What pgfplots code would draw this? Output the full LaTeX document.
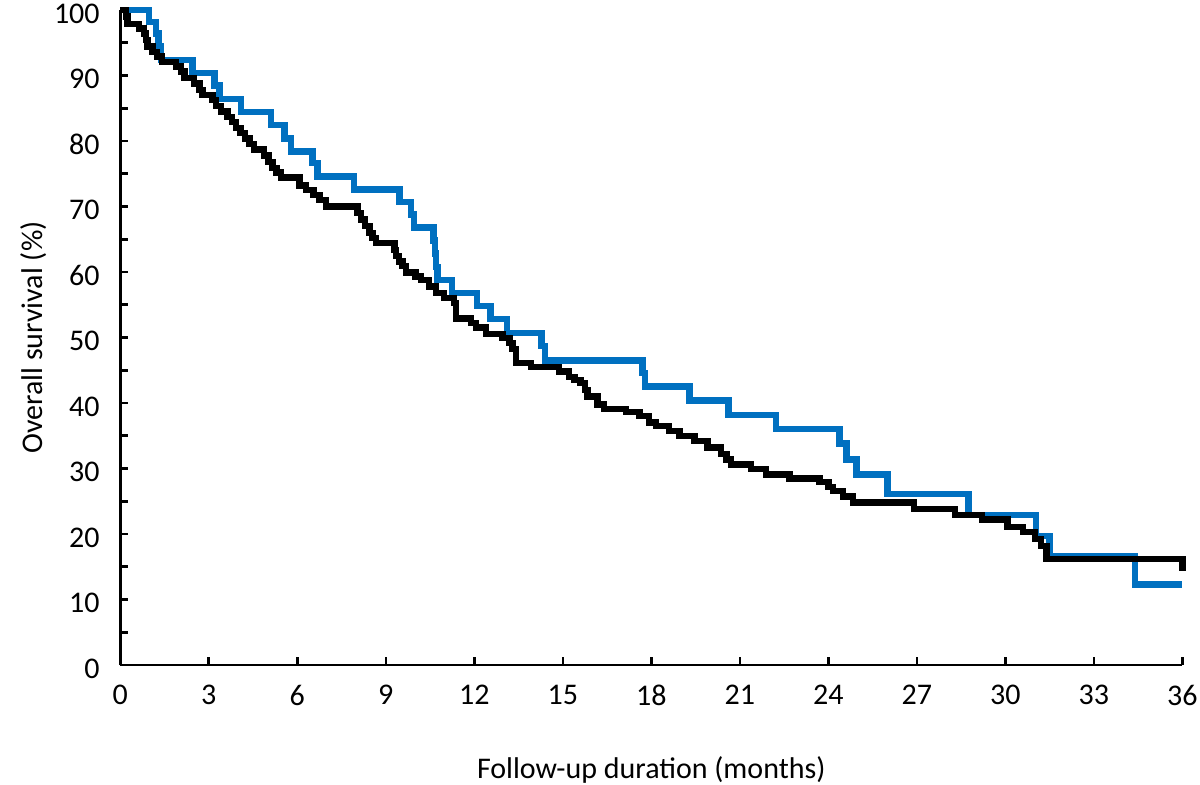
\documentclass[border=0pt]{standalone}
\usepackage{fontspec}
\setmainfont{Carlito}
\usepackage{pgfplots}
\pgfplotsset{compat=1.18}
\definecolor{kmblue}{RGB}{0,112,192}
\begin{document}
\begin{tikzpicture}
\useasboundingbox (-60.15pt,-59.5pt) rectangle (539.85pt,332.5pt);
\begin{axis}[
  at={(0pt,0pt)}, anchor=origin,
  scale only axis,
  width=531pt, height=327.5pt,
  xmin=0, xmax=36, ymin=0, ymax=100,
  axis lines=left,
  axis line style={-, line width=1.3pt, black},
  every tick/.style={line width=1.3pt, black},
  tick align=inside,
  major tick length=4pt, minor tick length=4pt,
  xtick={0,3,...,36},
  ytick={0,10,...,100},
  minor ytick={5,15,...,95},
  clip=false,
  /pgf/number format/assume math mode=true,
  tick label style={font=\fontsize{15}{18}\selectfont, black},
  xticklabel style={yshift=-6.7pt},
  yticklabel style={xshift=-6.8pt, yshift=-1.7pt},
  label style={font=\fontsize{15}{18}\selectfont},
  xlabel={Follow-up duration (months)},
  ylabel={Overall survival (\%)},
  xlabel style={at={([yshift=-52.5pt]axis description cs:0.5,0)}, anchor=center},
  ylabel style={at={([xshift=-43.5pt]axis description cs:0,0.5)}, anchor=center},
]
\addplot[const plot, kmblue, line width=3.2pt, line join=miter] coordinates {
(0,100) (0.98,98.2) (1.21,96.4) (1.30,94.4) (1.38,92.4) (2.45,90.4)
(3.19,88.5) (3.36,86.4) (4.09,84.4) (5.11,82.4) (5.56,80.4) (5.79,78.4)
(6.52,76.6) (6.68,74.6) (7.93,72.6) (9.46,70.7) (9.85,68.8) (9.95,66.8)
(10.62,64.8) (10.67,62.8) (10.70,60.8) (10.75,58.8) (11.25,56.8) (12.10,54.8)
(12.55,52.8) (13.10,50.7) (14.28,48.7) (14.40,46.5) (17.70,44.6) (17.78,42.5)
(19.30,40.4) (20.62,38.2) (22.22,36.0) (24.38,33.8) (24.62,31.4) (24.95,29.1)
(26.00,26.1) (28.75,22.9) (31.05,19.7) (31.50,16.6) (34.40,12.3) (36,12.3)
};
\addplot[const plot, black, line width=3.2pt, line join=miter] coordinates {
(0,100) (0.19,99.0) (0.25,97.9) (0.64,97.2) (0.81,96.4) (0.87,95.4)
(0.92,94.4) (1.09,93.6) (1.25,92.9) (1.42,92.1) (1.89,91.4) (2.06,90.6)
(2.17,89.6) (2.50,88.8) (2.68,87.8) (2.79,87.0) (3.12,86.3) (3.24,85.3)
(3.41,84.5) (3.63,83.7) (3.78,82.9) (3.93,82.0) (4.08,81.2) (4.23,80.4)
(4.38,79.5) (4.54,78.7) (4.88,77.8) (5.02,76.8) (5.16,75.9) (5.30,75.2)
(5.45,74.4) (6.07,73.2) (6.30,72.5) (6.55,71.8) (6.75,71.0) (6.97,70.0)
(8.04,69.0) (8.15,68.0) (8.30,67.0) (8.45,66.0) (8.55,65.2) (8.66,64.4)
(9.29,63.4) (9.35,62.4) (9.45,61.6) (9.56,60.9) (9.69,59.9) (10.00,59.3)
(10.19,58.8) (10.47,57.8) (10.70,56.8) (10.98,56.0) (11.32,55.3) (11.38,52.9)
(11.89,52.2) (12.06,51.5) (12.40,50.5) (12.96,49.9) (13.19,49.2) (13.30,48.2)
(13.41,46.1) (13.92,45.5) (14.88,44.8) (15.20,44.0) (15.40,43.5) (15.60,43.1)
(15.75,42.0) (15.84,41.0) (16.17,39.8) (16.40,39.1) (17.14,38.6) (17.60,38.0)
(17.93,37.0) (18.16,36.5) (18.60,35.7) (18.95,35.0) (19.46,34.2) (19.90,33.2)
(20.36,32.2) (20.55,31.4) (20.70,30.6) (21.38,29.9) (21.88,29.1) (22.68,28.5)
(23.70,27.9) (24.00,27.2) (24.15,26.6) (24.50,25.7) (24.83,24.8) (26.90,23.8)
(28.30,22.9) (29.20,22.2) (30.07,21.1) (30.60,20.3) (31.00,19.2) (31.20,18.2)
(31.40,16.2) (36,14.4)
};
\end{axis}
\end{tikzpicture}
\end{document}
